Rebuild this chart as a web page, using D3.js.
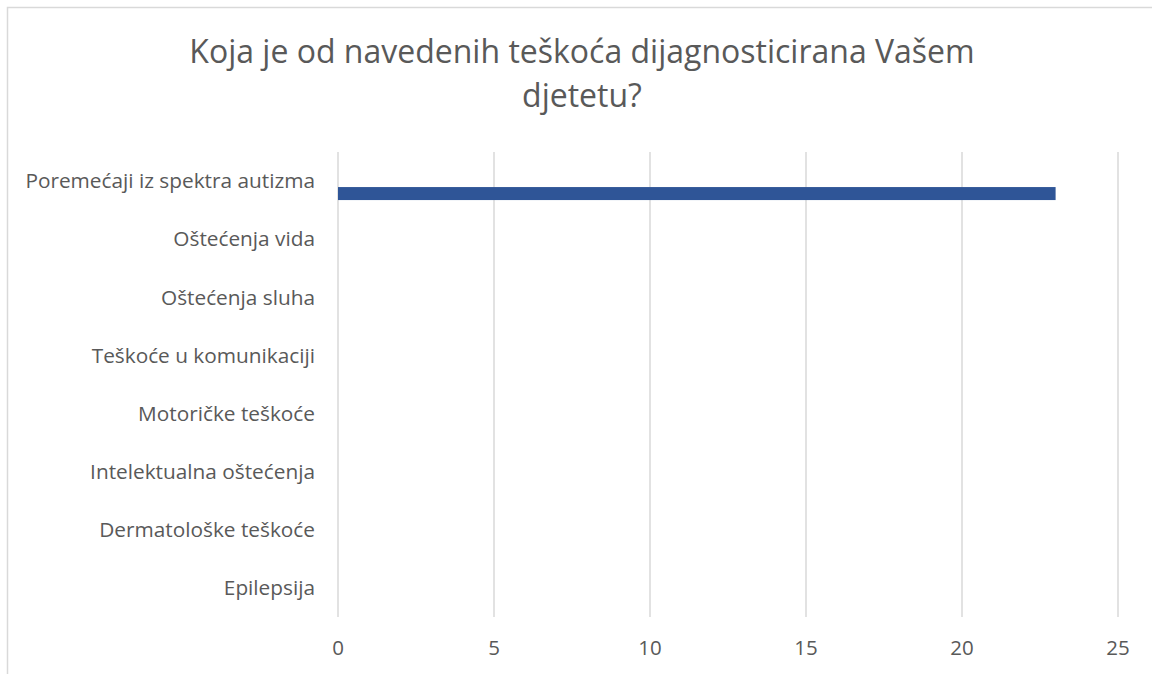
<!DOCTYPE html>
<html>
<head>
<meta charset="utf-8">
<script src="https://cdn.jsdelivr.net/npm/d3@7"></script>
<style>
  body { margin: 0; background: #fff; }
  text { font-family: "Open Sans", "Noto Sans", sans-serif; fill: #595959; }
</style>
</head>
<body>
<svg></svg>
<script>
const width = 1152;
const height = 674;

const titleLines = ['Koja je od navedenih teškoća dijagnosticirana Vašem', 'djetetu?'];
const categories = [
  'Poremećaji iz spektra autizma',
  'Oštećenja vida',
  'Oštećenja sluha',
  'Teškoće u komunikaciji',
  'Motoričke teškoće',
  'Intelektualna oštećenja',
  'Dermatološke teškoće',
  'Epilepsija'
];
const values = [23, 0, 0, 0, 0, 0, 0, 0];
const xTicks = [0, 5, 10, 15, 20, 25];

const margin = { top: 152, right: 34, bottom: 57, left: 338 };

const svg = d3.select('svg')
  .attr('width', width)
  .attr('height', height);

// chart frame (only top and left edges show in the crop)
svg.append('rect')
  .attr('x', 7.5)
  .attr('y', 7.5)
  .attr('width', width + 20)
  .attr('height', height + 20)
  .style('fill', 'none')
  .style('stroke', '#d9d9d9')
  .style('stroke-width', 1.5);

const title = svg.append('text')
  .attr('text-anchor', 'middle')
  .style('font-size', '32px');

title.selectAll('tspan')
  .data(titleLines)
  .join('tspan')
  .attr('x', 582)
  .attr('y', (d, i) => 63 + i * 44)
  .text(d => d);

const x = d3.scaleLinear()
  .domain([0, 25])
  .range([margin.left, width - margin.right]);

const y = d3.scaleBand()
  .domain(categories)
  .range([margin.top, height - margin.bottom]);

// gridlines
svg.append('g')
  .selectAll('line')
  .data(xTicks)
  .join('line')
  .attr('x1', d => x(d))
  .attr('x2', d => x(d))
  .attr('y1', margin.top)
  .attr('y2', height - margin.bottom)
  .style('stroke', '#d9d9d9')
  .style('stroke-width', 1.5);

// bars sit a little below the category centre, as in the source
const barOffset = 0.715;
const barHeight = 13;

svg.append('g')
  .selectAll('rect')
  .data(values)
  .join('rect')
  .attr('x', x(0))
  .attr('y', (d, i) => y(categories[i]) + y.bandwidth() * barOffset - barHeight / 2)
  .attr('width', d => x(d) - x(0))
  .attr('height', barHeight)
  .style('fill', '#2f5597');

// category labels
svg.append('g')
  .selectAll('text')
  .data(categories)
  .join('text')
  .attr('x', 315)
  .attr('y', d => y(d) + y.bandwidth() / 2)
  .attr('dy', '0.35em')
  .attr('text-anchor', 'end')
  .style('font-size', '20.8px')
  .text(d => d);

// x tick labels
svg.append('g')
  .selectAll('text')
  .data(xTicks)
  .join('text')
  .attr('x', d => x(d))
  .attr('y', 648)
  .attr('dy', '0.35em')
  .attr('text-anchor', 'middle')
  .style('font-size', '20.5px')
  .text(d => d);
</script>
</body>
</html>
